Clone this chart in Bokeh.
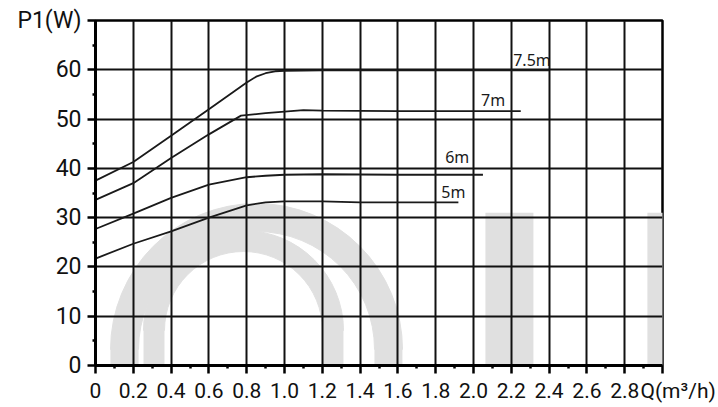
from math import pi
from bokeh.plotting import figure
from bokeh.models import FixedTicker
from bokeh.core.properties import value
from bokeh.embed import file_html
from bokeh.resources import INLINE

# ---- data ----
q_75 = [0, 0.2, 0.4, 0.6, 0.8, 0.85, 0.9, 0.95, 1.0, 1.2, 1.6, 2.0, 2.4]
p_75 = [37.5, 41.3, 46.6, 52.0, 57.4, 58.6, 59.3, 59.7, 59.8, 59.9, 59.9, 59.9, 59.9]

q_7 = [0, 0.2, 0.4, 0.6, 0.77, 0.9, 1.0, 1.1, 1.2, 1.6, 2.0, 2.25]
p_7 = [33.6, 37.0, 42.1, 46.9, 50.7, 51.2, 51.5, 51.8, 51.7, 51.6, 51.6, 51.6]

q_6 = [0, 0.2, 0.4, 0.6, 0.8, 0.9, 1.0, 1.2, 1.6, 2.05]
p_6 = [27.7, 30.8, 34.0, 36.7, 38.2, 38.5, 38.7, 38.8, 38.7, 38.7]

q_5 = [0, 0.2, 0.4, 0.6, 0.8, 0.9, 1.0, 1.2, 1.4, 1.6, 1.92]
p_5 = [21.7, 24.7, 27.2, 30.0, 32.5, 33.1, 33.3, 33.3, 33.1, 33.1, 33.1]

curve_names = ["7.5m", "7m", "6m", "5m"]
label_q = [2.21, 2.04, 1.85, 1.83]
label_p = [61.9, 53.8, 42.3, 35.2]

x_ticks = [0, 0.2, 0.4, 0.6, 0.8, 1.0, 1.2, 1.4, 1.6, 1.8, 2.0, 2.2, 2.4, 2.6, 2.8, 3.0]
x_tick_labels = ["0", "0.2", "0.4", "0.6", "0.8", "1.0", "1.2", "1.4", "1.6", "1.8",
                 "2.0", "2.2", "2.4", "2.6", "2.8", "\u00a0" * 6 + "Q(m³/h)"]
x_minor = [0.1, 0.3, 0.5, 0.7, 0.9, 1.1, 1.3, 1.5, 1.7, 1.9, 2.1, 2.3, 2.5, 2.7, 2.9]
y_ticks = [0, 10, 20, 30, 40, 50, 60, 70]
y_tick_labels = ["0", "10", "20", "30", "40", "50", "60", "P1(W)"]
y_minor = [5, 15, 25, 35, 45, 55, 65]

TICK_FONT = "Roboto"
LABEL_FONT = "Noto Sans"
WM = "#e0e0e0"

p = figure(frame_width=567, frame_height=345, x_range=(0, 3.0), y_range=(0, 70),
           output_backend="svg", toolbar_location=None,
           min_border_left=95, min_border_right=56, min_border_top=20, min_border_bottom=42,
           background_fill_color="white", border_fill_color="white")

# ---- faint watermark (behind the grid) ----
p.annular_wedge(x=0.852, y=3.25, inner_radius=118, outer_radius=146,
                inner_radius_units="screen", outer_radius_units="screen",
                start_angle=0, end_angle=pi, color=WM, level="image")
p.annular_wedge(x=0.783, y=7.1, inner_radius=79, outer_radius=100,
                inner_radius_units="screen", outer_radius_units="screen",
                start_angle=0, end_angle=pi, color=WM, level="image")
p.quad(left=[0.079, 1.476], right=[0.228, 1.624], bottom=[-5, -5], top=[3.25, 3.25],
       color=WM, line_color=None, level="image")
p.quad(left=[0.254, 1.201], right=[0.365, 1.312], bottom=[-5, -5], top=[7.1, 7.1],
       color=WM, line_color=None, level="image")
p.quad(left=[2.063, 2.92], right=[2.317, 3.16], bottom=[-5, -5], top=[31.0, 31.0],
       color=WM, line_color=None, level="image")

# ---- curves ----
for qs, ps in [(q_75, p_75), (q_7, p_7), (q_6, p_6), (q_5, p_5)]:
    p.line(qs, ps, line_color="#1a1a1a", line_width=1.8)

p.text(x=label_q, y=label_p, text=curve_names, text_font=value(LABEL_FONT),
       text_font_size="16px", text_color="#1a1a1a", text_baseline="middle", text_align="left")

# ---- axes ----
p.xaxis.ticker = FixedTicker(ticks=x_ticks, minor_ticks=x_minor)
p.yaxis.ticker = FixedTicker(ticks=y_ticks, minor_ticks=y_minor)
p.xaxis.major_label_overrides = {t: l for t, l in zip(x_ticks, x_tick_labels)}
p.yaxis.major_label_overrides = {t: l for t, l in zip(y_ticks, y_tick_labels)}

for ax in (p.xaxis[0], p.yaxis[0]):
    ax.axis_line_color = "black"
    ax.axis_line_width = 3
    ax.major_tick_line_color = "black"
    ax.major_tick_line_width = 2.5
    ax.major_tick_in = 0
    ax.major_tick_out = 8
    ax.minor_tick_line_color = "black"
    ax.minor_tick_line_width = 2.5
    ax.minor_tick_in = 0
    ax.minor_tick_out = 3
    ax.major_label_text_font = TICK_FONT
    ax.major_label_text_font_size = "21px"
    ax.major_label_text_color = "#111111"

p.yaxis.major_label_text_font_size = "23px"
p.xaxis.major_label_standoff = 5
p.yaxis.major_label_standoff = 6

p.xgrid.ticker = FixedTicker(ticks=x_ticks)
p.ygrid.ticker = FixedTicker(ticks=y_ticks)
for g in (p.xgrid[0], p.ygrid[0]):
    g.grid_line_color = "#111111"
    g.grid_line_width = 2
    g.grid_line_alpha = 1.0

p.outline_line_color = "black"
p.outline_line_width = 2.5
p.outline_line_alpha = 1.0

open("out.html", "w").write(file_html(p, INLINE))
